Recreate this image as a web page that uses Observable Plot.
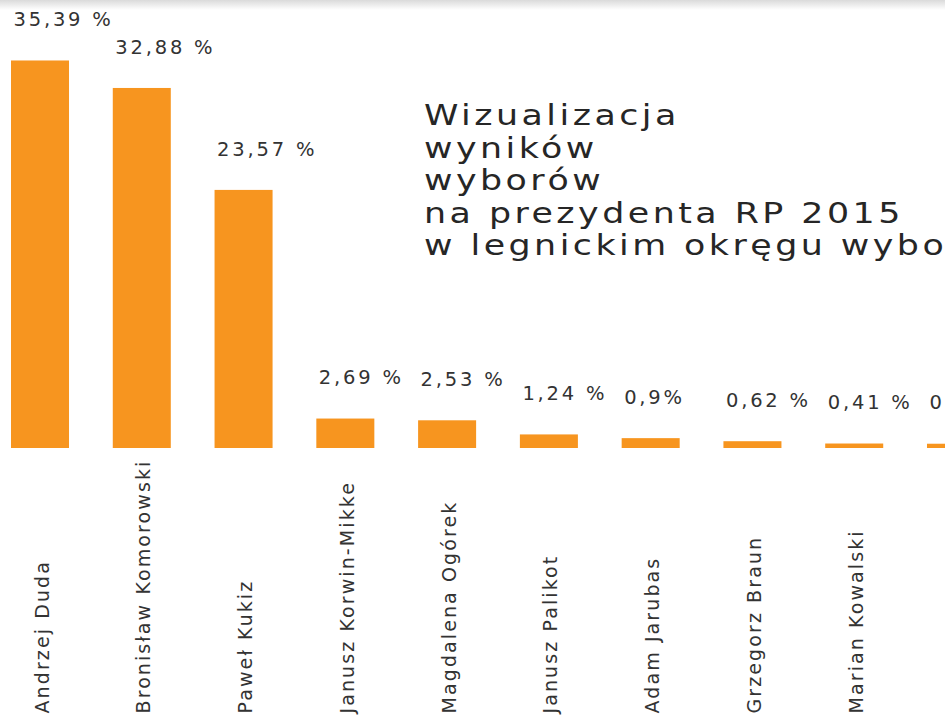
<!DOCTYPE html>
<html>
<head>
<meta charset="utf-8">
<script src="https://cdn.jsdelivr.net/npm/d3@7"></script>
<script src="https://cdn.jsdelivr.net/npm/@observablehq/plot@0.6"></script>
<style>
  html, body { margin: 0; padding: 0; background: #fff; overflow: hidden; width: 945px; height: 717px; }
  #wrap { position: relative; width: 945px; height: 717px; overflow: hidden; }
  #chart { position: absolute; left: 0; top: 0; width: 985px; }
  #title { position: absolute; left: 424px; top: 99px; font-family: "DejaVu Sans", sans-serif; font-size: 29px;
           letter-spacing: 2.9px; line-height: 32.5px; color: #262626; transform: scaleX(1.2); transform-origin: 0 0; white-space: nowrap; }
  #shade { position: absolute; left: 0; top: 0; width: 100%; height: 10px;
           background: linear-gradient(#dadada, rgba(255,255,255,0)); }
</style>
</head>
<body>
<div id="wrap">
  <div id="chart"></div>
  <div id="title">Wizualizacja<br>wyników<br>wyborów<br>na prezydenta RP 2015<br>w legnickim okręgu wyborczym</div>
  <div id="shade"></div>
</div>
<script>
const candidates = ["Andrzej Duda", "Bronisław Komorowski", "Paweł Kukiz", "Janusz Korwin-Mikke", "Magdalena Ogórek",
                    "Janusz Palikot", "Adam Jarubas", "Grzegorz Braun", "Marian Kowalski", "Jacek Wilk"];
const shares = [35.39, 32.88, 23.57, 2.69, 2.53, 1.24, 0.9, 0.62, 0.41, 0.39];
const shareLabels = ["35,39 %", "32,88 %", "23,57 %", "2,69 %", "2,53 %", "1,24 %", "0,9%", "0,62 %", "0,41 %", "0,39 %"];

const data = candidates.map((name, i) => ({name, share: shares[i], label: shareLabels[i]}));

const chart = Plot.plot({
  width: 985,
  height: 717,
  marginLeft: 11,
  marginRight: 0,
  marginTop: 10,
  marginBottom: 269,
  x: {domain: candidates, paddingInner: 0.43, paddingOuter: 0, round: false, axis: null},
  y: {domain: [0, 40], axis: null},
  style: {fontFamily: "DejaVu Sans, sans-serif", background: "white", overflow: "visible", maxWidth: "none"},
  marks: [
    Plot.barY(data, {x: "name", y: "share", fill: "#F7951F"}),
    Plot.text(data, {x: "name", y: "share", text: "label", dx: -27, dy: -41, textAnchor: "start",
                     fontSize: 19.5, fill: "#333"}),
    Plot.text(data, {x: "name", frameAnchor: "bottom", text: "name", rotate: -90, textAnchor: "start",
                     dx: 8, dy: 265, fontSize: 19, fill: "#333"})
  ]
});
const textGroups = chart.querySelectorAll('g[aria-label="text"]');
if (textGroups[0]) textGroups[0].style.letterSpacing = "2.8px";
if (textGroups[1]) textGroups[1].style.letterSpacing = "2.1px";
document.getElementById("chart").appendChild(chart);
</script>
</body>
</html>
